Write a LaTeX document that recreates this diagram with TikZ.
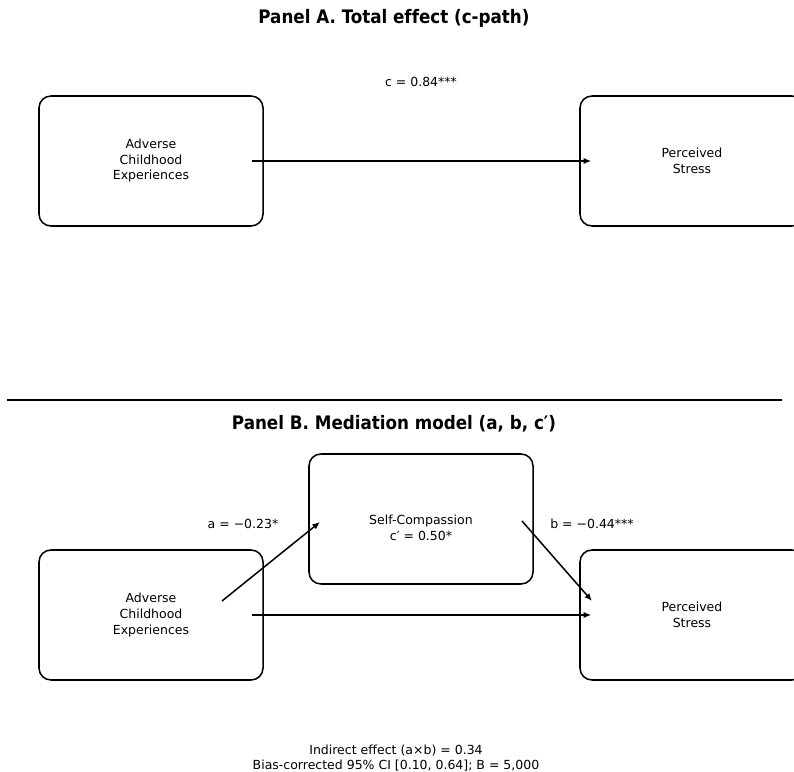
\documentclass[tikz,border=0pt]{standalone}
\usepackage{fontspec}
\setmainfont[Ligatures=NoCommon]{DejaVu Sans}
\newfontfamily\ttlfont[Ligatures=NoCommon]{DejaVu Sans Condensed}
\usetikzlibrary{arrows.meta,calc}
\begin{document}
\begin{tikzpicture}[x=0.72pt,y=-0.72pt,
  box/.style={draw, line width=1.1pt, rounded corners=8.6pt, minimum width=161.3pt, minimum height=93.6pt, inner sep=0pt, align=center, font=\fontsize{9}{11.2}\selectfont},
  lab/.style={font=\fontsize{9}{11.4}\selectfont, inner sep=0pt, align=center},
  ttl/.style={font=\ttlfont\fontsize{13.4}{16}\selectfont\bfseries, inner sep=0pt},
  arr/.style={line width=1.1pt, -{Latex[length=5.5pt,width=4.6pt]}}]
\useasboundingbox (0,0) rectangle (794,772);
\clip (0,0) rectangle (794,772);
% Panel A
\node[ttl] (tA) at (394,18) {Panel A. Total effect (c-path)};
\node[lab] (cl) at (421,82) {c = 0.84***};
\node[box] (aceA) at (151,161) {Adverse\\Childhood\\Experiences};
\node[box] (psA) at (692,161) {Perceived\\Stress};
\draw[arr] ($(aceA.east)+(-12,0)$) -- ($(psA.west)+(12,0)$);
% separator
\coordinate (s1) at (7,400);
\coordinate (s2) at (782,400);
\draw[line width=0.9pt] (s1) -- (s2);
% Panel B
\node[ttl] (tB) at (394,424) {Panel B. Mediation model (a, b, c′)};
\node[box] (sc) at (421,519) {};
\node[lab] (sct) at (421,528) {Self-Compassion\\c′ = 0.50*};
\node[box] (aceB) at (151,615) {Adverse\\Childhood\\Experiences};
\node[box] (psB) at (692,615) {Perceived\\Stress};
\draw[arr] ($(aceB.center)+(71,-14)$) -- ($(sc.center)+(-101,3)$);
\draw[arr] ($(sc.center)+(101,2)$) -- ($(psB.center)+(-100,-14)$);
\draw[arr] ($(aceB.east)+(-12,0)$) -- ($(psB.west)+(12,0)$);
\node[lab] (la) at (243,524) {a = −0.23*};
\node[lab] (lb) at (592,524) {b = −0.44***};
\node[lab] (foot) at (396,758) {Indirect effect (a×b) = 0.34\\Bias-corrected 95\% CI [0.10, 0.64]; B = 5,000};
\end{tikzpicture}
\end{document}
